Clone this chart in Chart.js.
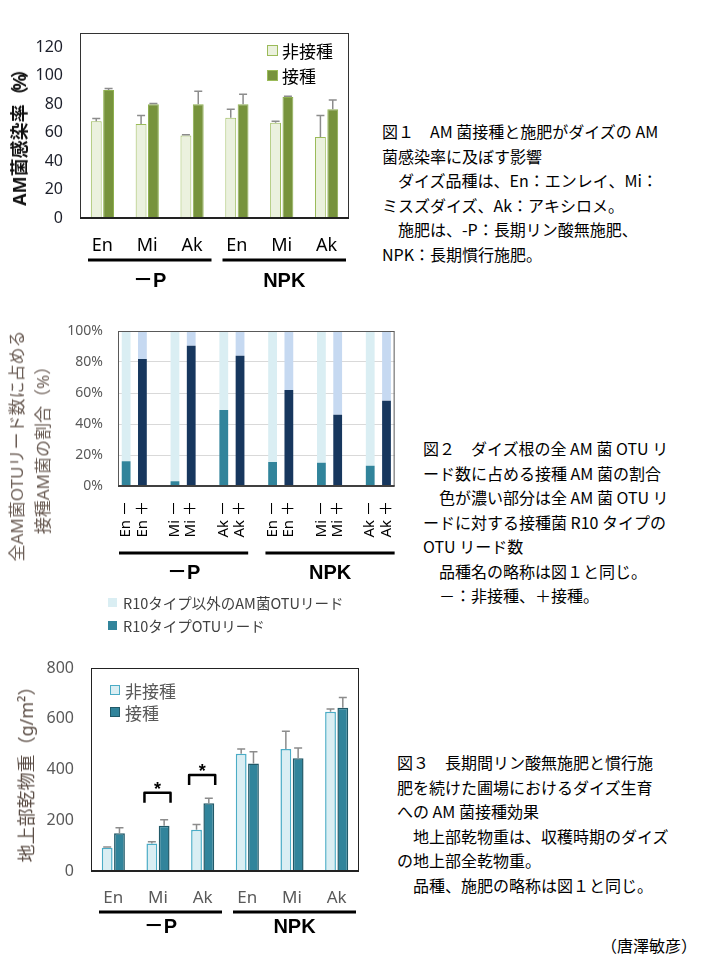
<!DOCTYPE html>
<html lang="ja">
<head>
<meta charset="utf-8">
<title>AM菌接種とダイズ</title>
<script src="https://cdn.jsdelivr.net/npm/chart.js@4.4.1/dist/chart.umd.min.js"></script>
<style>
  html,body{margin:0;padding:0;background:#fff;}
  body{width:705px;height:970px;position:relative;overflow:hidden;font-family:"Noto Sans","Noto Sans CJK JP",sans-serif;}
  canvas{position:absolute;display:block;}
  .ytitle{position:absolute;white-space:nowrap;transform:translate(-50%,-50%) rotate(-90deg);text-align:center;font-family:"Noto Sans","Noto Sans CJK JP",sans-serif;}
  .pn{letter-spacing:-4px;}
  .cap{position:absolute;font-family:"Noto Sans CJK JP",sans-serif;font-size:16px;line-height:24.5px;color:#000;white-space:pre;}
  .key{position:absolute;box-sizing:border-box;}
  .keytxt{position:absolute;white-space:nowrap;transform:translateY(-50%);font-family:"Noto Sans CJK JP",sans-serif;}
</style>
</head>
<body>

<canvas id="c1" width="360" height="300" style="left:0;top:0"></canvas>
<canvas id="c2" width="420" height="340" style="left:0;top:300px"></canvas>
<canvas id="c3" width="370" height="310" style="left:0;top:640px"></canvas>

<!-- axis titles -->
<div class="ytitle" style="left:18px;top:135px;font-size:18px;font-weight:bold;color:#111">AM菌感染率<span class="pn">（%）</span></div>
<div class="ytitle" style="left:30px;top:446px;font-size:17px;line-height:26px;color:#6b5d55">全AM菌OTUリード数に占める<br>接種AM菌の割合（%）</div>
<div class="ytitle" style="left:25px;top:770px;font-size:18px;color:#5b4d45">地上部乾物重（g/m²）</div>

<!-- legends -->
<div class="key" style="left:267px;top:45px;width:11px;height:11px;background:#EBF1DE;border:1.5px solid #9BBB59"></div>
<div class="keytxt" style="left:282px;top:50px;font-size:17px;color:#000">非接種</div>
<div class="key" style="left:267px;top:70px;width:11px;height:11px;background:#77933C;border:1px solid #9BBB59"></div>
<div class="keytxt" style="left:282px;top:75px;font-size:17px;color:#000">接種</div>

<div class="key" style="left:108px;top:598px;width:9px;height:9px;background:#DAEEF3"></div>
<div class="keytxt" style="left:123px;top:602px;font-size:14.5px;color:#404040">R10タイプ以外のAM菌OTUリード</div>
<div class="key" style="left:108px;top:621px;width:9px;height:9px;background:#31849B"></div>
<div class="keytxt" style="left:123px;top:625px;font-size:14.5px;color:#404040">R10タイプOTUリード</div>

<div class="key" style="left:110px;top:685px;width:10px;height:10px;background:#DAEEF3;border:1.5px solid #4BACC6"></div>
<div class="keytxt" style="left:125px;top:690px;font-size:17px;color:#595959">非接種</div>
<div class="key" style="left:110px;top:707px;width:10px;height:10px;background:#31849B;border:1.5px solid #215968"></div>
<div class="keytxt" style="left:125px;top:712px;font-size:17px;color:#595959">接種</div>

<!-- captions -->
<div class="cap" style="left:382px;top:119px">図１　AM 菌接種と施肥がダイズの AM
菌感染率に及ぼす影響
　ダイズ品種は、En：エンレイ、Mi：
ミスズダイズ、Ak：アキシロメ。
　施肥は、-P：長期リン酸無施肥、
NPK：長期慣行施肥。</div>
<div class="cap" style="left:423px;top:436px">図２　ダイズ根の全 AM 菌 OTU リ
ード数に占める接種 AM 菌の割合
　色が濃い部分は全 AM 菌 OTU リ
ードに対する接種菌 R10 タイプの
OTU リード数
　品種名の略称は図１と同じ。
　－：非接種、＋接種。</div>
<div class="cap" style="left:397px;top:750px">図３　長期間リン酸無施肥と慣行施
肥を続けた圃場におけるダイズ生育
への AM 菌接種効果
　地上部乾物重は、収穫時期のダイズ
の地上部全乾物重。
　品種、施肥の略称は図１と同じ。</div>
<div class="cap" style="right:8px;top:933px">（唐澤敏彦）</div>

<script>
// 図1: AM菌感染率（%）
const cultivars = ['En','Mi','Ak','En','Mi','Ak'];
const infNon = [68, 66, 58, 70.5, 67, 57];
const infNonErr = [2, 6, 0.5, 6, 1, 15];
const infInoc = [90, 80, 80, 80, 85, 76.5];
const infInocErr = [1, 0.5, 9, 7, 0.5, 6.5];
const infTicks = [0, 20, 40, 60, 80, 100, 120];

// 図2: R10タイプの割合（%）, 並びは -P En-,En+,Mi-,Mi+,Ak-,Ak+ / NPK 同
const otuLabels = ['En －','En ＋','Mi －','Mi ＋','Ak －','Ak ＋','En －','En ＋','Mi －','Mi ＋','Ak －','Ak ＋'];
const r10Share = [16, 82, 3, 90.5, 49, 84, 15.5, 62, 15, 46, 13, 55];

// 図3: 地上部乾物重（g/m2）
const dmNon = [92, 108, 163, 462, 481, 628];
const dmNonErr = [3, 7, 20, 19, 70, 10];
const dmInoc = [149, 178, 267, 424, 444, 643];
const dmInocErr = [21, 24, 20, 46, 41, 41];
const sigBracket = [null, 308, 378, null, null, null]; // * bracket height

Chart.defaults.font.family = '"Noto Sans", "Noto Sans CJK JP", sans-serif';
Chart.defaults.animation = false;
Chart.defaults.events = [];
Chart.defaults.plugins.legend.display = false;
Chart.defaults.plugins.tooltip.enabled = false;

// plot box + heavier base line
function frame(color, width, axisColor, axisWidth){
  return {
    id:'frame',
    afterDatasetsDraw(chart){
      const {ctx, chartArea:a} = chart;
      ctx.save();
      ctx.strokeStyle=color; ctx.lineWidth=width;
      ctx.strokeRect(a.left+0.5, a.top+0.5, a.width-1, a.height-1);
      ctx.strokeStyle=axisColor; ctx.lineWidth=axisWidth;
      ctx.beginPath(); ctx.moveTo(a.left, a.bottom); ctx.lineTo(a.right, a.bottom); ctx.stroke();
      ctx.restore();
    }
  };
}

// upward error bars, values taken from dataset.errors
const errorBars = {
  id:'errorBars',
  afterDatasetsDraw(chart){
    const {ctx, scales:{y}} = chart;
    ctx.save(); ctx.strokeStyle='#8c8c8c'; ctx.lineWidth=1.5;
    chart.data.datasets.forEach((ds,di)=>{
      if(!ds.errors) return;
      chart.getDatasetMeta(di).data.forEach((bar,i)=>{
        const top=y.getPixelForValue(ds.data[i]+ds.errors[i]);
        ctx.beginPath();
        ctx.moveTo(bar.x, bar.y); ctx.lineTo(bar.x, top);
        ctx.moveTo(bar.x-4, top); ctx.lineTo(bar.x+4, top);
        ctx.stroke();
      });
    });
    ctx.restore();
  }
};

// -P / NPK group lines under the category axis
function groupAxis(groups, lineOff, labelOff, insL, insR){
  return {
    id:'groupAxis',
    afterDraw(chart){
      const {ctx, chartArea:a, scales:{x}} = chart;
      const half=(x.getPixelForValue(1)-x.getPixelForValue(0))/2;
      ctx.save();
      groups.forEach(g=>{
        const l=x.getPixelForValue(g.from)-half+insL, r=x.getPixelForValue(g.to)+half-insR;
        ctx.strokeStyle='#000'; ctx.lineWidth=3;
        ctx.beginPath(); ctx.moveTo(l, a.bottom+lineOff); ctx.lineTo(r, a.bottom+lineOff); ctx.stroke();
        ctx.fillStyle='#000'; ctx.textAlign='center'; ctx.textBaseline='middle';
        ctx.font='bold 20px "Liberation Sans", "Noto Sans CJK JP", sans-serif';
        ctx.fillText(g.label, (l+r)/2, a.bottom+labelOff);
      });
      ctx.restore();
    }
  };
}

// significance brackets for fig 3
const sigMarks = {
  id:'sigMarks',
  afterDatasetsDraw(chart){
    const {ctx, scales:{y}} = chart;
    const m0=chart.getDatasetMeta(0).data, m1=chart.getDatasetMeta(1).data;
    sigBracket.forEach((v,i)=>{
      if(v==null) return;
      const l=m0[i].x-m0[i].width/2-2, r=m1[i].x+m1[i].width/2+1, yy=y.getPixelForValue(v);
      ctx.save(); ctx.strokeStyle='#000'; ctx.lineWidth=2.5; ctx.lineJoin='round';
      ctx.beginPath(); ctx.moveTo(l,yy+10); ctx.lineTo(l,yy); ctx.lineTo(r,yy); ctx.lineTo(r,yy+10); ctx.stroke();
      ctx.fillStyle='#000'; ctx.textAlign='center'; ctx.textBaseline='alphabetic';
      ctx.font='bold 18px "Liberation Sans", sans-serif';
      ctx.fillText('*', (l+r)/2, yy+2);
      ctx.restore();
    });
  }
};

const groups6 = [{label:'－P', from:0, to:2}, {label:'NPK', from:3, to:5}];

// ---- Fig 1
new Chart(document.getElementById('c1'), {
  type:'bar',
  data:{labels:cultivars, datasets:[
    {label:'非接種', data:infNon, errors:infNonErr, backgroundColor:'#EBF1DE', borderColor:'#9BBB59', borderWidth:1},
    {label:'接種', data:infInoc, errors:infInocErr, backgroundColor:'#77933C', borderColor:'#8FB050', borderWidth:1}
  ]},
  options:{
    responsive:false, devicePixelRatio:1,
    layout:{padding:{left:0, right:11, top:33, bottom:42}},
    datasets:{bar:{categoryPercentage:0.55, barPercentage:0.88}},
    scales:{
      x:{grid:{display:false, drawTicks:false}, border:{display:false},
         ticks:{padding:17, color:'#000', font:{size:18}}, afterFit:s=>{s.height=40;}},
      y:{min:0, max:130, grid:{display:false, drawTicks:false}, border:{display:false},
         ticks:{padding:17, color:'#1c1f2a', font:{size:16}},
         afterBuildTicks:s=>{s.ticks=infTicks.map(v=>({value:v}));},
         afterFit:s=>{s.width=80;}}
    }
  },
  plugins:[frame('#333',1,'#222',2), errorBars, groupAxis(groups6, 42, 63, 8, 3)]
});

// ---- Fig 2: 17 slots, blank slot between cultivar pairs
const slotLabels=[], slotR10=[], slotOther=[], slotInoc=[];
otuLabels.forEach((l,i)=>{
  if(i>0 && i%2===0){ slotLabels.push(''); slotR10.push(null); slotOther.push(null); slotInoc.push(false); }
  slotLabels.push(l); slotR10.push(r10Share[i]); slotOther.push(100-r10Share[i]); slotInoc.push(i%2===1);
});

new Chart(document.getElementById('c2'), {
  type:'bar',
  data:{labels:slotLabels, datasets:[
    {label:'R10タイプOTUリード', data:slotR10, backgroundColor:c=>slotInoc[c.dataIndex]?'#17375E':'#31849B'},
    {label:'R10タイプ以外のAM菌OTUリード', data:slotOther, backgroundColor:c=>slotInoc[c.dataIndex]?'#C6D9F1':'#DAEEF3'}
  ]},
  options:{
    responsive:false, devicePixelRatio:1,
    layout:{padding:{left:0, right:17, top:31, bottom:94}},
    datasets:{bar:{categoryPercentage:1, barPercentage:0.54}},
    scales:{
      x:{stacked:true, grid:{display:false, drawTicks:false}, border:{display:false},
         ticks:{autoSkip:false, maxRotation:90, minRotation:90, padding:15, color:'#000', font:{size:15}},
         afterFit:s=>{s.height=60;}},
      y:{stacked:true, min:0, max:100, grid:{color:'#D9D9D9', drawTicks:false}, border:{display:false},
         ticks:{stepSize:20, padding:15, color:'#595959', font:{size:14}, callback:v=>v+'%'},
         afterFit:s=>{s.width=118;}}
    }
  },
  plugins:[frame('#595959',1,'#404040',2), groupAxis([{label:'－P', from:0, to:7}, {label:'NPK', from:9, to:16}], 67, 87, 1, 0)]
});

// ---- Fig 3
new Chart(document.getElementById('c3'), {
  type:'bar',
  data:{labels:cultivars, datasets:[
    {label:'非接種', data:dmNon, errors:dmNonErr, backgroundColor:'#DAEEF3', borderColor:'#4BACC6', borderWidth:1.5},
    {label:'接種', data:dmInoc, errors:dmInocErr, backgroundColor:'#31849B', borderColor:'#215968', borderWidth:1.5}
  ]},
  options:{
    responsive:false, devicePixelRatio:1,
    layout:{padding:{left:0, right:11, top:28, bottom:39}},
    datasets:{bar:{categoryPercentage:0.55, barPercentage:0.88}},
    scales:{
      x:{grid:{display:false, drawTicks:false}, border:{display:false},
         ticks:{padding:17, color:'#595959', font:{size:17}}, afterFit:s=>{s.height=40;}},
      y:{min:0, max:800, grid:{display:false, drawTicks:false}, border:{display:false},
         ticks:{stepSize:200, padding:17, color:'#595959', font:{size:16}},
         afterFit:s=>{s.width=91;}}
    }
  },
  plugins:[frame('#222',1,'#222',2), errorBars, sigMarks, groupAxis(groups6, 41, 56, 8, 3)]
});
</script>
</body>
</html>
